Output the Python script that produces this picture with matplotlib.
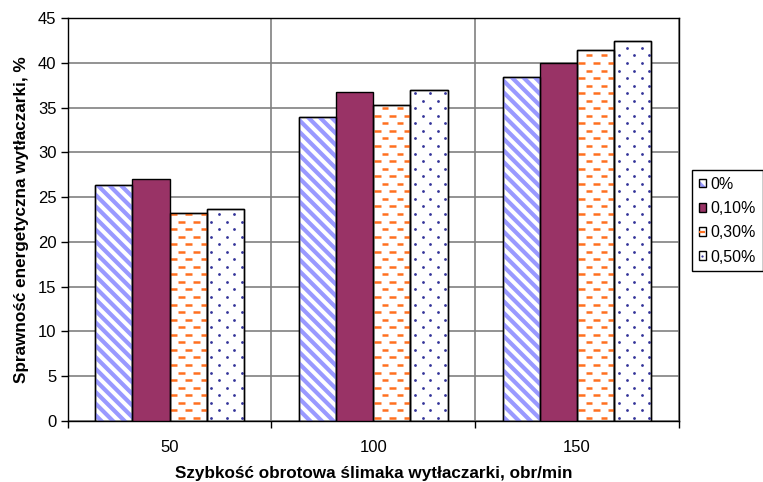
import numpy as np
import matplotlib
matplotlib.use('Agg')
import matplotlib.pyplot as plt
from matplotlib.collections import LineCollection
from matplotlib.lines import Line2D
from matplotlib.patches import Rectangle
from matplotlib.legend_handler import HandlerTuple

speeds = ['50', '100', '150']
series_labels = ['0%', '0,10%', '0,30%', '0,50%']
eff_0 = [26.3, 34.0, 38.4]
eff_010 = [27.0, 36.8, 40.0]
eff_030 = [23.2, 35.3, 41.4]
eff_050 = [23.7, 37.0, 42.5]

plt.rcParams['font.family'] = ['Liberation Sans', 'DejaVu Sans']
plt.rcParams['font.size'] = 12
plt.rcParams['hatch.linewidth'] = 2.2

STRIPE = '#9999ff'
MAROON = '#993366'
ORANGE = '#ff7020'
NAVY = '#333399'

fig = plt.figure(figsize=(7.63, 4.82), dpi=100)
ax = fig.add_axes([0.0887, 0.1272, 0.8012, 0.8349])
ax.set_xlim(-0.5, 2.5)
ax.set_ylim(0, 45)
ax.set_axisbelow(True)

x = np.arange(len(speeds))
w = 0.182
offsets = (np.arange(4) - 1.5) * w

bars_0 = ax.bar(x + offsets[0], eff_0, w, color='white', edgecolor='black',
                linewidth=1, zorder=2)
bars_010 = ax.bar(x + offsets[1], eff_010, w, color=MAROON, edgecolor='black',
                  linewidth=1, zorder=3)
bars_030 = ax.bar(x + offsets[2], eff_030, w, color='white', edgecolor='black',
                  linewidth=1, zorder=2)
bars_050 = ax.bar(x + offsets[3], eff_050, w, color='white', edgecolor='black',
                  linewidth=1, zorder=2)

to_px = ax.transData
to_data = ax.transData.inverted()
ROW, PERIOD = 7.55, 15.1
STRIPE_STEP = 11.6


def bar_box(bar):
    return to_px.transform([(bar.get_x(), 0),
                            (bar.get_x() + bar.get_width(), bar.get_height())])


def pattern_points(bar):
    (x0, y0), (x1, y1) = bar_box(bar)
    pts = []
    for r in range(int(y0 // ROW), int(y1 // ROW) + 2):
        ry = r * ROW + ROW / 2
        shift = (r % 2) * PERIOD / 2
        for c in range(int(x0 // PERIOD) - 1, int(x1 // PERIOD) + 2):
            pts.append((c * PERIOD + shift, ry))
    return np.array(pts)


def clipped(artist, bar):
    artist.set_clip_path(bar)
    return artist


# 0% - light blue diagonal stripes (x + y = const in pixel space)
for bar in bars_0:
    (x0, y0), (x1, y1) = bar_box(bar)
    segs = []
    for k in range(int((x0 + y0) // STRIPE_STEP) - 1, int((x1 + y1) // STRIPE_STEP) + 2):
        c = k * STRIPE_STEP
        segs.append(to_data.transform([(c - y1 - 5, y1 + 5), (c - y0 + 5, y0 - 5)]))
    lc = LineCollection(segs, colors=STRIPE, linewidths=3.0, zorder=2.5)
    ax.add_collection(lc, autolim=False)
    clipped(lc, bar)

# 0,30% - staggered orange dashes
for bar in bars_030:
    pts = pattern_points(bar)
    segs = [to_data.transform([(px - 3.3, py), (px + 3.3, py)]) for px, py in pts]
    lc = LineCollection(segs, colors=ORANGE, linewidths=1.8, zorder=2.5)
    ax.add_collection(lc, autolim=False)
    clipped(lc, bar)

# 0,50% - staggered navy dots
for bar in bars_050:
    pts = to_data.transform(pattern_points(bar))
    dots, = ax.plot(pts[:, 0], pts[:, 1], ls='none', marker='o', ms=2.0,
                    mfc=NAVY, mec=NAVY, mew=0, zorder=2.5, scalex=False, scaley=False)
    clipped(dots, bar)

# outlines on top of the patterns
for bars in (bars_0, bars_030, bars_050):
    for bar in bars:
        ax.add_patch(Rectangle(bar.get_xy(), bar.get_width(), bar.get_height(),
                               facecolor='none', edgecolor='black', linewidth=1, zorder=3))

ax.set_yticks(range(0, 46, 5))
ax.yaxis.grid(True, color='#808080', linewidth=1.2)
ax.set_xticks([-0.5, 0.5, 1.5, 2.5])
ax.set_xticklabels([])
ax.set_xticks(x, minor=True)
ax.set_xticklabels(speeds, minor=True)
ax.xaxis.grid(True, which='major', color='#808080', linewidth=1.2)
ax.tick_params(axis='x', which='major', length=5, width=1)
ax.tick_params(axis='x', which='minor', length=0, pad=14)
ax.tick_params(axis='y', length=5, width=1, pad=3)
for s in ax.spines.values():
    s.set_color('black')
    s.set_linewidth(1)

ax.set_xlabel('Szybkość obrotowa ślimaka wytłaczarki, obr/min', fontweight='bold', fontsize=12.3)
ax.set_ylabel('Sprawność energetyczna wytłaczarki, %', fontweight='bold', fontsize=12.3)
ax.xaxis.set_label_coords(0.5, -0.112)
ax.yaxis.set_label_coords(-0.064, 0.5)

handles = [
    (Rectangle((0, 0), 1, 1, facecolor='white', edgecolor=STRIPE, hatch='\\\\', linewidth=0),
     Rectangle((0, 0), 1, 1, facecolor='none', edgecolor='black', linewidth=1)),
    Rectangle((0, 0), 1, 1, facecolor=MAROON, edgecolor='black', linewidth=1),
    (Rectangle((0, 0), 1, 1, facecolor='white', edgecolor='black', linewidth=1),
     Line2D([], [], ls='none', marker='_', ms=4, mew=1.6, color=ORANGE)),
    (Rectangle((0, 0), 1, 1, facecolor='white', edgecolor='black', linewidth=1),
     Line2D([], [], ls='none', marker='o', ms=1.6, mew=0, color=NAVY)),
]
leg = fig.legend(handles, series_labels, loc='upper left',
                 bbox_to_anchor=(692 / 763, (482 - 170) / 482),
                 handler_map={tuple: HandlerTuple(ndivide=1)},
                 handlelength=0.46, handleheight=0.46, handletextpad=0.28,
                 labelspacing=0.58, borderpad=0.42, borderaxespad=0,
                 fancybox=False, framealpha=1, edgecolor='black', fontsize=11.5)
leg.get_frame().set_linewidth(1)

fig.savefig('out.png', dpi=100)
